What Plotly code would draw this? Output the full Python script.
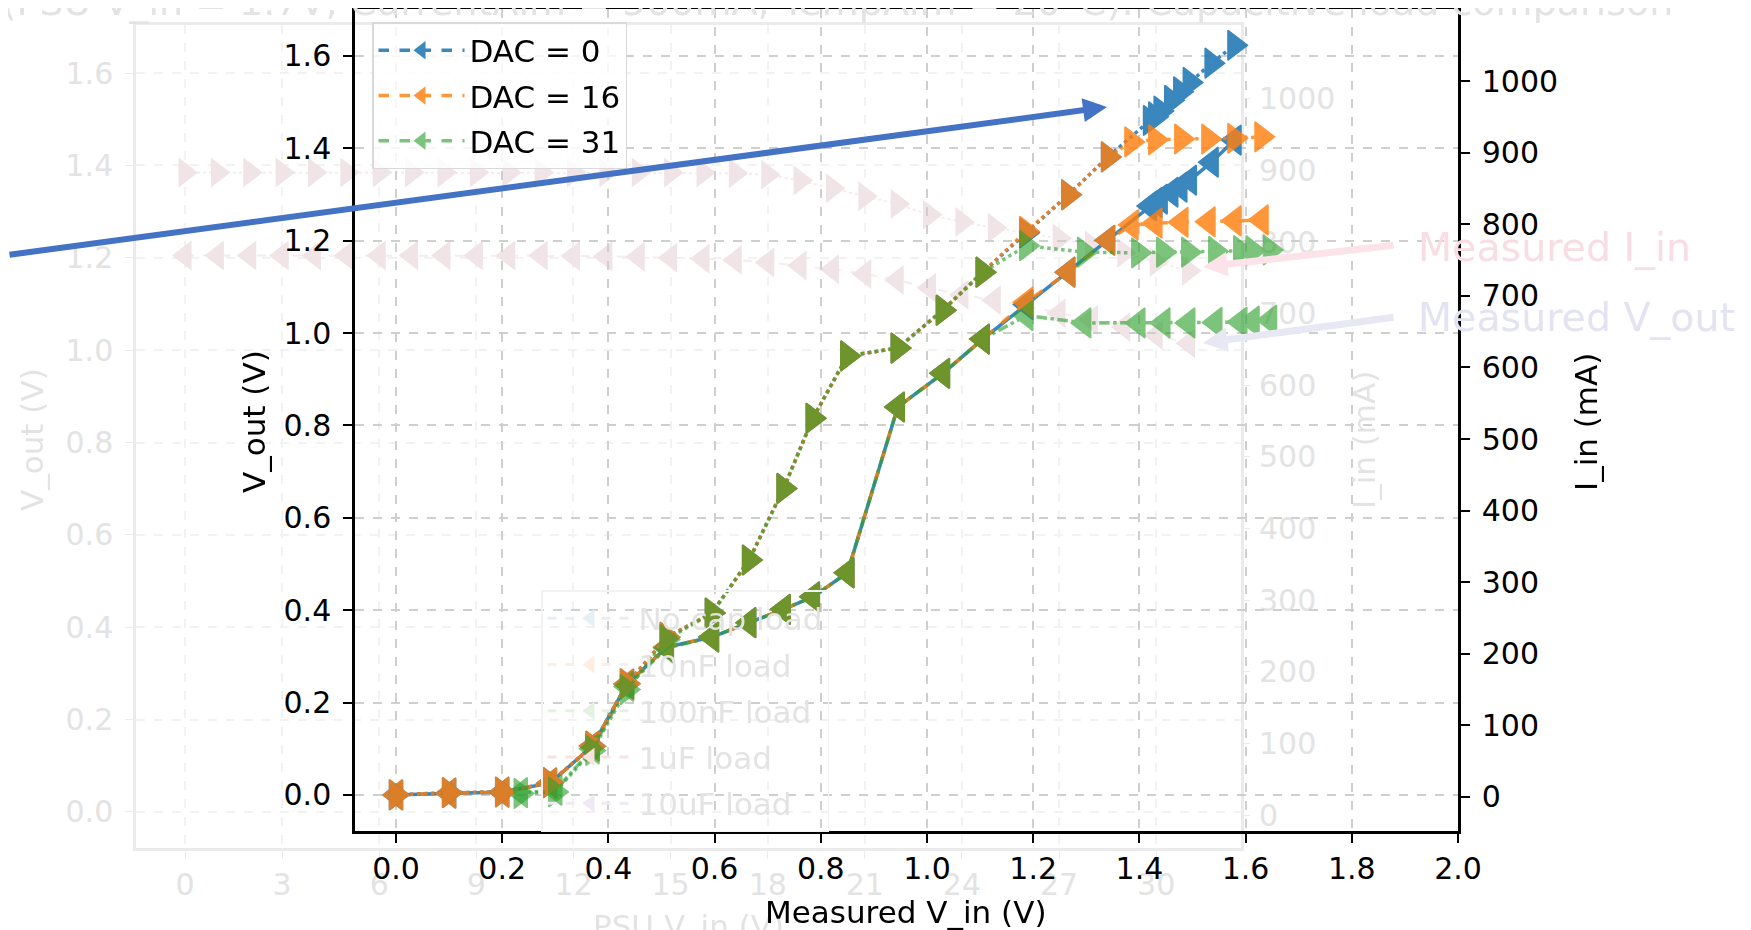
import plotly.graph_objects as go

# ---------------- foreground data (Measured V_in vs V_out / I_in) ----------------
dac_labels = ["DAC = 0", "DAC = 16", "DAC = 31"]

dac0_vin = [0.00, 0.10, 0.20, 0.29, 0.37, 0.435, 0.51, 0.595, 0.665, 0.73, 0.785, 0.85, 0.945, 1.03, 1.105, 1.187,
            1.266, 1.341, 1.42, 1.43, 1.44, 1.46, 1.477, 1.495, 1.536, 1.579]
dac0_vout = [0.000, 0.004, 0.006, 0.026, 0.106, 0.240, 0.320, 0.342, 0.373, 0.402, 0.429, 0.481, 0.840, 0.913, 0.987, 1.062,
             1.132, 1.201, 1.275, 1.283, 1.290, 1.305, 1.316, 1.331, 1.370, 1.418]
dac0_iin = [3, 6, 7, 20, 71, 158, 223, 257, 331, 431, 529, 616, 627, 680, 733, 788,
            841, 894, 945, 950, 958, 973, 985, 998, 1025, 1050]

dac16_vin = [0.00, 0.10, 0.20, 0.29, 0.37, 0.435, 0.51, 0.595, 0.665, 0.73, 0.785, 0.85, 0.945, 1.03, 1.105, 1.187,
             1.266, 1.341, 1.385, 1.43, 1.479, 1.53, 1.579, 1.63]
dac16_vout = [0.000, 0.004, 0.006, 0.026, 0.106, 0.240, 0.320, 0.342, 0.373, 0.402, 0.429, 0.481, 0.840, 0.913, 0.987, 1.067,
              1.132, 1.201, 1.234, 1.238, 1.240, 1.241, 1.243, 1.245]
dac16_iin = [3, 6, 7, 20, 71, 158, 223, 257, 331, 431, 529, 616, 627, 680, 733, 790,
             841, 894, 915, 918, 919, 919, 920, 922]

dac31_vin = [0.235, 0.30, 0.37, 0.435, 0.51, 0.595, 0.665, 0.73, 0.785, 0.85, 0.945, 1.03, 1.105, 1.187,
             1.296, 1.398, 1.445, 1.492, 1.543, 1.59, 1.613, 1.646]
dac31_vout = [0.005, 0.010, 0.100, 0.235, 0.318, 0.342, 0.373, 0.402, 0.429, 0.481, 0.840, 0.913, 0.987, 1.038,
              1.022, 1.022, 1.022, 1.022, 1.023, 1.024, 1.026, 1.028]
dac31_iin = [5, 7, 65, 150, 220, 257, 331, 431, 529, 616, 627, 680, 733, 770,
             761, 760, 761, 761, 762, 763, 763, 764]

x_ticks = [0.0, 0.2, 0.4, 0.6, 0.8, 1.0, 1.2, 1.4, 1.6, 1.8, 2.0]
v_ticks = [0.0, 0.2, 0.4, 0.6, 0.8, 1.0, 1.2, 1.4, 1.6]
i_ticks = [0, 100, 200, 300, 400, 500, 600, 700, 800, 900, 1000]

# ---------------- faded background chart data ----------------
ghost_psu = [0, 1, 2, 3, 4, 5, 6, 7, 8, 9, 10, 11, 12, 13, 14, 15, 16, 17, 18, 19, 20, 21, 22, 23, 24, 25,
             26, 27, 28, 29, 30, 31]
ghost_iin = [897, 897, 897, 897, 897, 897, 897, 897, 897, 897, 897, 897, 897, 897, 897, 897, 897, 896, 894,
             886, 875, 864, 853, 838, 828, 820, 812, 805, 795, 785, 772, 760]
ghost_vout = [1.205, 1.205, 1.205, 1.205, 1.205, 1.205, 1.205, 1.205, 1.205, 1.205, 1.205, 1.205, 1.204, 1.203,
              1.202, 1.200, 1.198, 1.195, 1.190, 1.183, 1.175, 1.165, 1.152, 1.135, 1.120, 1.108, 1.095, 1.080,
              1.065, 1.050, 1.033, 1.015]
ghost_labels = ["No cap load", "10nF load", "100nF load", "1uF load", "10uF load"]
ghost_x_ticks = [0, 3, 6, 9, 12, 15, 18, 21, 24, 27, 30]
ghost_v_ticks = [0.0, 0.2, 0.4, 0.6, 0.8, 1.0, 1.2, 1.4, 1.6]
ghost_i_ticks = [0, 100, 200, 300, 400, 500, 600, 700, 800, 900, 1000]
ghost_title = "r (PSU V_in = 1.7V, CurrentAim = 500mA, TempAim = 20°C): Capacitive load comparison"

# ---------------- styles ----------------
FONT = "DejaVu Sans"
FS = 30
FT = 31
MS = 26
colors = ["#1f77b4", "#ff7f0e", "#2ca02c"]
opac = [0.88, 0.82, 0.62]
vdash = ["solid", "dash", "dashdot"]
ghost_colors = ["#e7eff6", "#fdeee1", "#e4f2e4", "#f8e2e2", "#eee9f4"]
GHOST_TXT = "#e3e3e3"
GHOST_MARK = "#f0e4e7"

# page offset of the figure (browser body margin)
OFF = 8
W, H = 1751 - OFF, 930 - OFF
# plot-area union in page pixels: x 136..1458, y 9..848
PX0, PX1, PY0, PY1 = 136, 1458, 9, 848
L, T = PX0 - OFF, PY0 - OFF
R, B = W - (PX1 - OFF), H - (PY1 - OFF)
PW, PH = PX1 - PX0, PY1 - PY0


def px(x):
    return (x - PX0) / PW


def py(y):
    return (PY1 - y) / PH


fig = go.Figure()

# ---- ghost chart traces ----
fig.add_trace(go.Scatter(x=ghost_psu, y=ghost_iin, xaxis="x", yaxis="y4", mode="lines+markers",
                         line=dict(color="#f4ecee", width=2, dash="dot"),
                         marker=dict(symbol="triangle-right", size=MS, color=GHOST_MARK),
                         showlegend=False, hoverinfo="skip"))
fig.add_trace(go.Scatter(x=ghost_psu, y=ghost_vout, xaxis="x", yaxis="y", mode="lines+markers",
                         line=dict(color="#f4ecee", width=2, dash="dash"),
                         marker=dict(symbol="triangle-left", size=MS, color=GHOST_MARK),
                         showlegend=False, hoverinfo="skip"))
for j, (lab, c) in enumerate(zip(ghost_labels, ghost_colors)):
    fig.add_trace(go.Scatter(x=[None], y=[None], xaxis="x", yaxis="y", mode="lines+markers", name=lab,
                             line=dict(color=c, width=3, dash="dash"),
                             marker=dict(symbol="triangle-left", size=MS, color=c),
                             legend="legend2", legendgroup="g%d" % j))

# ---- foreground traces ----
series = [(dac0_vin, dac0_vout, dac0_iin), (dac16_vin, dac16_vout, dac16_iin), (dac31_vin, dac31_vout, dac31_iin)]
for k, (xs, vs, isr) in enumerate(series):
    fig.add_trace(go.Scatter(x=xs, y=vs, xaxis="x2", yaxis="y2", mode="lines+markers",
                             line=dict(color=colors[k], width=3.5, dash=vdash[k]),
                             marker=dict(symbol="triangle-left", size=MS, color=colors[k],
                                         line=dict(color=colors[k], width=1.5)),
                             opacity=opac[k], showlegend=False))
for k, (xs, vs, isr) in enumerate(series):
    fig.add_trace(go.Scatter(x=xs, y=isr, xaxis="x2", yaxis="y3", mode="lines+markers",
                             line=dict(color=colors[k], width=3.5, dash="dot"),
                             marker=dict(symbol="triangle-right", size=MS, color=colors[k],
                                         line=dict(color=colors[k], width=1.5)),
                             opacity=opac[k], showlegend=False))
for k in range(3):
    fig.add_trace(go.Scatter(x=[None], y=[None], xaxis="x2", yaxis="y2", mode="lines+markers",
                             name=dac_labels[k],
                             line=dict(color=colors[k], width=3.5, dash="dash"),
                             marker=dict(symbol="triangle-left", size=MS, color=colors[k]),
                             opacity=opac[k], legend="legend", legendgroup="d%d" % k))

tickfont = dict(family=FONT, size=FS, color="black")
gtickfont = dict(family=FONT, size=FS, color=GHOST_TXT)

fig.update_layout(
    width=W, height=H,
    margin=dict(l=L, r=R, t=T, b=B, autoexpand=False),
    paper_bgcolor="white", plot_bgcolor="rgba(0,0,0,0)",
    font=dict(family=FONT, size=FS, color="black"),
    # ghost axes
    xaxis=dict(domain=[0, px(1241)], range=[-1.514, 32.62], tickvals=ghost_x_ticks, tickfont=gtickfont,
               showgrid=True, gridcolor="#f2f2f2", griddash="dash", gridwidth=1.5, zeroline=False,
               showline=True, linecolor="#ebebeb", linewidth=2.5, mirror=True,
               ticks="outside", ticklen=8, tickcolor="#ebebeb", ticklabelstandoff=0),
    yaxis=dict(domain=[0, py(25)], range=[-0.078, 1.704], tickvals=ghost_v_ticks, tickformat=".1f",
               tickfont=gtickfont, showgrid=True, gridcolor="#f2f2f2", griddash="dash", gridwidth=1.5,
               zeroline=False, showline=True, linecolor="#ebebeb", linewidth=2.5, mirror=True,
               ticks="outside", ticklen=8, tickcolor="#ebebeb", ticklabelstandoff=6, anchor="x"),
    yaxis4=dict(overlaying="y", side="right", anchor="x", range=[-46, 1103], tickvals=ghost_i_ticks,
                tickfont=gtickfont, showgrid=False, zeroline=False, ticks="outside", ticklen=8,
                tickcolor="#ebebeb", ticklabelstandoff=3),
    # foreground axes
    xaxis2=dict(domain=[px(355), 1.0], range=[-0.0772, 2.0], tickvals=x_ticks, tickformat=".1f",
                tickfont=tickfont, showgrid=True, gridcolor="#cfcfcf", griddash="dash", gridwidth=1.5,
                zeroline=False, showline=True, linecolor="black", linewidth=2.5, mirror=True,
                ticks="outside", ticklen=9, tickwidth=2, tickcolor="black", ticklabelstandoff=0,
                anchor="y2"),
    yaxis2=dict(domain=[py(831), 1.0], range=[-0.078, 1.7017], tickvals=v_ticks, tickformat=".1f",
                tickfont=tickfont, showgrid=True, gridcolor="#cfcfcf", griddash="dash", gridwidth=1.5,
                zeroline=False, showline=True, linecolor="black", linewidth=2.5,
                ticks="outside", ticklen=9, tickwidth=2, tickcolor="black", ticklabelstandoff=6,
                anchor="x2"),
    yaxis3=dict(overlaying="y2", side="right", anchor="x2", range=[-47.5, 1100.6], tickvals=i_ticks,
                tickfont=tickfont, showgrid=False, zeroline=False, showline=True, linecolor="black",
                linewidth=2.5, ticks="outside", ticklen=9, tickwidth=2, tickcolor="black",
                ticklabelstandoff=6),
    legend=dict(x=px(372), y=py(22), xanchor="left", yanchor="top",
                bgcolor="rgba(255,255,255,0.8)", bordercolor="#d9d9d9", borderwidth=1.5,
                font=dict(family=FONT, size=FT, color="black"), itemwidth=86, tracegroupgap=2),
    legend2=dict(x=px(541), y=py(590), xanchor="left", yanchor="top",
                 bgcolor="rgba(255,255,255,0)", bordercolor="#f3f3f3", borderwidth=1.5,
                 font=dict(family=FONT, size=FT, color=GHOST_TXT), itemwidth=86, tracegroupgap=3),
)

ann = []


def text_ann(txt, x, y, size, color, angle=0, xanchor="center", yanchor="middle"):
    ann.append(dict(text=txt, x=px(x), y=py(y), xref="paper", yref="paper", xanchor=xanchor,
                    yanchor=yanchor, textangle=angle, showarrow=False,
                    font=dict(family=FONT, size=size, color=color)))


def arrow_ann(tipx, tipy, tailx, taily, color, width, size):
    ann.append(dict(text="", x=px(tipx), y=py(tipy), xref="paper", yref="paper",
                    ax=tailx - tipx, ay=taily - tipy, showarrow=True, arrowhead=2,
                    arrowsize=size, arrowwidth=width, arrowcolor=color))


# ghost texts
text_ann(ghost_title, 1675, 2, 38, GHOST_TXT, xanchor="right", yanchor="middle")
text_ann("V_out (V)", 32, 440, FT, GHOST_TXT, angle=-90)
text_ann("I_in (mA)", 1364, 440, FT, GHOST_TXT, angle=-90)
text_ann("PSU V_in (V)", 688, 926, FT, GHOST_TXT)
arrow_ann(1203, 267, 1395, 245, "#fbe3e9", 7, 0.7)
arrow_ann(1203, 343, 1395, 317, "#e8e8f5", 7, 0.7)
text_ann("Measured I_in", 1416, 247, 39.5, "#f9dde4", xanchor="left")
text_ann("Measured V_out", 1416, 317, 39.5, "#e3e3f2", xanchor="left")
# foreground axis titles
text_ann("V_out (V)", 254, 422, FT, "black", angle=-90)
text_ann("I_in (mA)", 1586, 422, FT, "black", angle=-90)
text_ann("Measured V_in (V)", 906, 912, FT, "black")
# blue callout arrow
arrow_ann(1107, 107, 0, 255, "#4472C4", 6, 0.8)

fig.update_layout(annotations=ann)

fig.write_html("out.html")
